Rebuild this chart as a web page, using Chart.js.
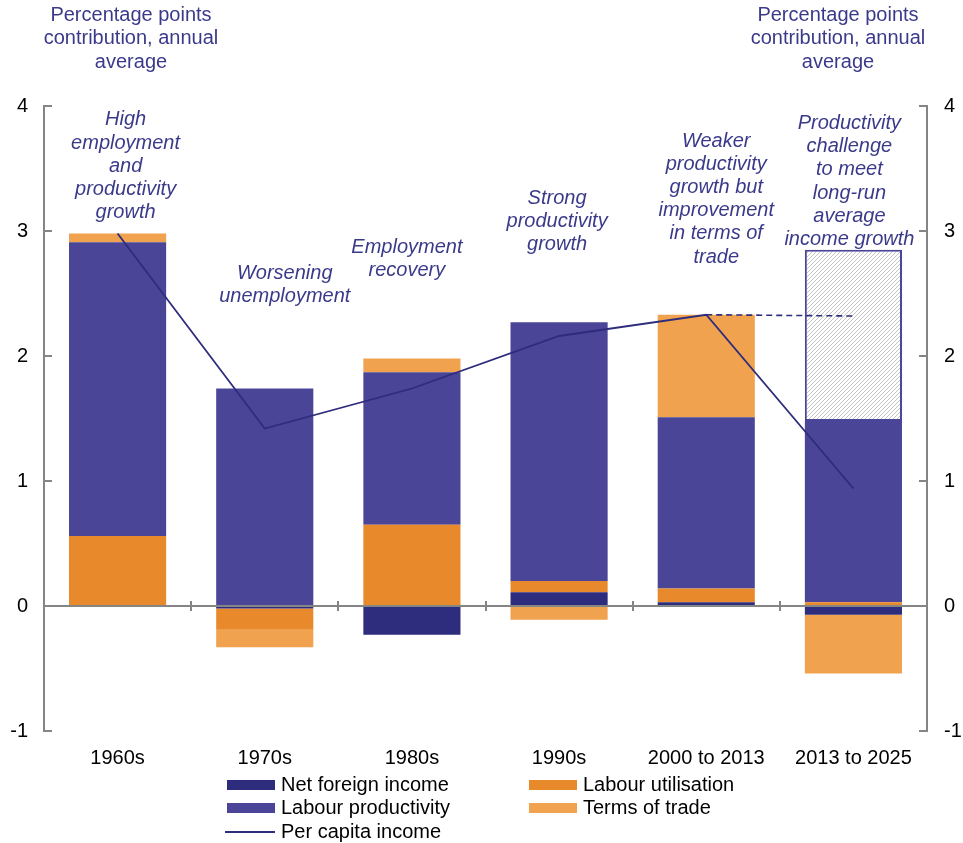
<!DOCTYPE html>
<html>
<head>
<meta charset="utf-8">
<script src="https://cdn.jsdelivr.net/npm/chart.js@4.4.1/dist/chart.umd.min.js"></script>
<style>
  html, body { margin: 0; padding: 0; background: #fff; }
</style>
</head>
<body>
<canvas id="chart" width="963" height="843"></canvas>
<script>
// Data (percentage points contribution, annual average)
const categories = ['1960s', '1970s', '1980s', '1990s', '2000 to 2013', '2013 to 2025'];
const netForeignIncome = [0, -0.02, -0.23, 0.11, 0.03, -0.07];
const labourUtilisation = [0.56, -0.17, 0.65, 0.09, 0.11, 0.03];
const labourProductivity = [2.35, 1.74, 1.22, 2.07, 1.37, 1.45];
const termsOfTrade = [0.07, -0.14, 0.11, -0.11, 0.82, -0.47];
const productivityChallenge = [null, null, null, null, null, 1.37];
const perCapitaIncome = [2.98, 1.42, 1.74, 2.16, 2.33, 0.94];
const longRunAverage = [null, null, null, null, 2.33, 2.32];
const yTicks = [-1, 0, 1, 2, 3, 4];

const axisTitle = ['Percentage points', 'contribution, annual', 'average'];

// Annotations: category index, value of first line, horizontal nudge
const notes = [
  { cat: 0, y: 3.89, dx: 8, lines: ['High', 'employment', 'and', 'productivity', 'growth'] },
  { cat: 1, y: 2.66, dx: 20, lines: ['Worsening', 'unemployment'] },
  { cat: 2, y: 2.87, dx: -5, lines: ['Employment', 'recovery'] },
  { cat: 3, y: 3.26, dx: -2, lines: ['Strong', 'productivity', 'growth'] },
  { cat: 4, y: 3.72, dx: 10, lines: ['Weaker', 'productivity', 'growth but', 'improvement', 'in terms of', 'trade'] },
  { cat: 5, y: 3.86, dx: -4, lines: ['Productivity', 'challenge', 'to meet', 'long-run', 'average', 'income growth'] }
];

const NAVY = '#2e2c7c';
const PURPLE = '#4a4596';
const ORANGE = '#e8892b';
const LIGHT_ORANGE = '#f0a24e';
const TEXT_BLUE = '#3b3a8a';
const AXIS_GREY = '#858585';
const FONT = "'Liberation Sans', Arial, sans-serif";

Chart.defaults.font.family = FONT;

const canvas = document.getElementById('chart');
const ctx = canvas.getContext('2d');

// grey diagonal hatching for the productivity challenge bar
function makeHatch() {
  const c = document.createElement('canvas');
  c.width = 4; c.height = 4;
  const g = c.getContext('2d');
  g.fillStyle = '#fff';
  g.fillRect(0, 0, 4, 4);
  g.strokeStyle = '#c4c4c4';
  g.lineWidth = 1;
  g.beginPath();
  g.moveTo(0, 4); g.lineTo(4, 0);
  g.moveTo(-1, 1); g.lineTo(1, -1);
  g.moveTo(3, 5); g.lineTo(5, 3);
  g.stroke();
  return ctx.createPattern(c, 'repeat');
}

const decorations = {
  id: 'decorations',
  afterDatasetsDraw(chart) {
    const { ctx, chartArea, scales } = chart;
    const y0 = scales.y.getPixelForValue(0);
    ctx.save();
    ctx.strokeStyle = AXIS_GREY;
    ctx.lineWidth = 2;
    // zero line
    ctx.beginPath();
    ctx.moveTo(chartArea.left, y0);
    ctx.lineTo(chartArea.right, y0);
    ctx.stroke();
    // category boundary ticks on the zero line
    const step = (chartArea.right - chartArea.left) / categories.length;
    ctx.beginPath();
    for (let i = 1; i < categories.length; i++) {
      const x = Math.round(chartArea.left + step * i);
      ctx.moveTo(x, y0 - 5);
      ctx.lineTo(x, y0 + 5);
    }
    ctx.stroke();
    // inward ticks on both value axes
    ctx.beginPath();
    yTicks.forEach(v => {
      const y = scales.y.getPixelForValue(v);
      ctx.moveTo(chartArea.left, y);
      ctx.lineTo(chartArea.left + 8, y);
      ctx.moveTo(chartArea.right, y);
      ctx.lineTo(chartArea.right - 8, y);
    });
    ctx.stroke();
    ctx.restore();
  },
  afterDraw(chart) {
    const { ctx, scales } = chart;
    ctx.save();
    ctx.textAlign = 'center';
    ctx.textBaseline = 'middle';

    // axis titles
    ctx.fillStyle = TEXT_BLUE;
    ctx.font = '20px ' + FONT;
    axisTitle.forEach((t, i) => {
      ctx.fillText(t, 131, 15 + i * 23.5);
      ctx.fillText(t, 838, 15 + i * 23.5);
    });

    // annotations
    ctx.font = 'italic 20px ' + FONT;
    notes.forEach(n => {
      const x = scales.x.getPixelForValue(n.cat) + n.dx;
      const y = scales.y.getPixelForValue(n.y);
      n.lines.forEach((t, i) => ctx.fillText(t, x, y + i * 23.2));
    });

    // legend
    ctx.font = '20px ' + FONT;
    ctx.textAlign = 'left';
    const cols = [227, 529];
    const rows = [785, 808, 832];
    const items = chart.data.datasets.filter(d => d.label);
    items.forEach((d, i) => {
      const col = cols[i % 2];
      const row = rows[Math.floor(i / 2)];
      if (d.type === 'line') {
        ctx.strokeStyle = d.borderColor;
        ctx.lineWidth = 2;
        ctx.beginPath();
        ctx.moveTo(col - 2, row);
        ctx.lineTo(col + 48, row);
        ctx.stroke();
      } else {
        ctx.fillStyle = d.backgroundColor;
        ctx.fillRect(col, row - 5, 48, 10);
      }
      ctx.fillStyle = '#000';
      ctx.fillText(d.label, col + 54, row);
    });
    ctx.restore();
  }
};

const chart = new Chart(ctx, {
  data: {
    labels: categories,
    datasets: [
      { type: 'bar', label: 'Net foreign income', data: netForeignIncome, backgroundColor: NAVY },
      { type: 'bar', label: 'Labour utilisation', data: labourUtilisation, backgroundColor: ORANGE },
      { type: 'bar', label: 'Labour productivity', data: labourProductivity, backgroundColor: PURPLE },
      { type: 'bar', label: 'Terms of trade', data: termsOfTrade, backgroundColor: LIGHT_ORANGE },
      { type: 'bar', label: '', data: productivityChallenge, backgroundColor: makeHatch(),
        borderColor: '#4a4697', borderWidth: 2, borderSkipped: false },
      { type: 'line', label: 'Per capita income', data: perCapitaIncome, yAxisID: 'y2',
        borderColor: NAVY, borderWidth: 1.8, pointRadius: 0, tension: 0, order: -1 },
      { type: 'line', label: '', data: longRunAverage, yAxisID: 'y2',
        borderColor: NAVY, borderWidth: 1.6, borderDash: [6, 4], pointRadius: 0, tension: 0, order: -1 }
    ]
  },
  options: {
    responsive: false,
    animation: false,
    layout: { padding: { top: 106, left: 0, right: 0, bottom: 0 } },
    datasets: { bar: { categoryPercentage: 1, barPercentage: 0.66 } },
    plugins: {
      legend: { display: false },
      tooltip: { enabled: false }
    },
    scales: {
      x: {
        stacked: true,
        grid: { display: false, drawTicks: false },
        border: { display: false },
        ticks: { color: '#000', font: { size: 20 }, padding: 15, maxRotation: 0, autoSkip: false },
        afterFit: s => { s.height = 112; }
      },
      y: {
        stacked: true,
        position: 'left',
        min: -1,
        max: 4,
        grid: { display: false, drawTicks: false },
        border: { color: AXIS_GREY, width: 2 },
        ticks: { stepSize: 1, color: '#000', font: { size: 20 }, padding: 16 },
        afterFit: s => { s.width = 44; }
      },
      y2: {
        position: 'right',
        min: -1,
        max: 4,
        grid: { display: false, drawTicks: false },
        border: { color: AXIS_GREY, width: 2 },
        ticks: { stepSize: 1, color: '#000', font: { size: 20 }, padding: 17 },
        afterFit: s => { s.width = 36; }
      }
    }
  },
  plugins: [decorations]
});
</script>
</body>
</html>
